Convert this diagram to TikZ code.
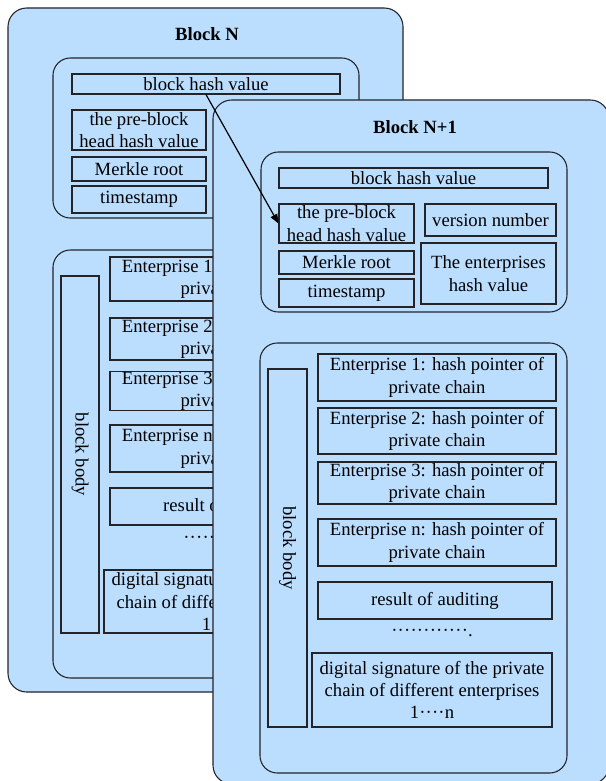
\documentclass[tikz,border=0pt]{standalone}
\usepackage{fontspec}
\setmainfont{Liberation Serif}
\usetikzlibrary{arrows.meta}
\definecolor{panelblue}{RGB}{187,222,255}
\definecolor{edgegray}{RGB}{35,35,40}

% \pxbox[style]{name}{x1}{y1}{x2}{y2}{text}: a box spanning two corners
\newcommand\pxbox[7][cellbox]{%
  \node[#1, minimum width={(#5-#3)*0.75pt}, minimum height={(#6-#4)*0.75pt}]
    (#2) at ({(#3+#5)/2},{(#4+#6)/2}) {#7};}
% a raised dot of ellipsis spacing
\newcommand\mdot{\makebox[4.8pt]{·}}

\tikzset{
  txt/.style={font=\fontsize{14}{16.7}\selectfont},
  cellbox/.style={rectangle, draw=edgegray, fill=panelblue, line width=0.8pt,
    inner sep=0pt, align=center, txt},
  panel/.style={cellbox, rounded corners=13pt},
  outerpanel/.style={cellbox, rounded corners=14pt},
  blocktitle/.style={font=\fontsize{14}{16.7}\selectfont\bfseries, inner sep=0pt},
  sidelabel/.style={txt, rotate=-90, inner sep=0pt},
  linkarrow/.style={draw=black, line width=0.9pt,
    -{Triangle[length=7pt,width=5.5pt]}},
}

\begin{document}
\begin{tikzpicture}[x=0.75pt, y=-0.75pt]
\useasboundingbox (0,0) rectangle (606,781);

% ---------------- Block N ----------------
\pxbox[outerpanel]{blockN}{8}{8}{403}{692}{}
\node[blocktitle] (titleN) at (207,34) {Block N};

\pxbox[panel]{headN}{53}{58}{359}{218}{}
\pxbox{hashN}{72}{74}{340}{94}{block hash value}
\pxbox{prevN}{72}{110}{206}{150}{the pre-block\\head hash value}
\pxbox{merkN}{72}{157}{206}{181}{Merkle root}
\pxbox{timeN}{72}{186}{206}{213}{timestamp}

\pxbox[panel]{bodyN}{53}{250}{359}{678}{}
\pxbox{sideN}{61}{276}{99}{633}{}
\node[sidelabel] (sideNlabel) at (sideN.center) {block body};
\pxbox{eoneN}{110}{257}{348}{301}{Enterprise 1: hash pointer of\\private chain}
\pxbox{etwoN}{110}{318}{348}{360}{Enterprise 2: hash pointer of\\private chain}
\pxbox{ethreeN}{110}{372}{348}{410}{Enterprise 3: hash pointer of\\private chain}
\pxbox{enN}{110}{425}{348}{472}{Enterprise n: hash pointer of\\private chain}
\pxbox{resN}{110}{488}{344}{525}{result of auditing}
\node[txt, inner sep=0pt] (dotsN) at (224,540) {\mdot\mdot\mdot\mdot\mdot\mdot\mdot\mdot\mdot\mdot\mdot\mdot.};
\pxbox{sigN}{104}{570}{344}{633}{digital signature of the private\\chain of different enterprises\\1\mdot\mdot\mdot\mdot n}

% ---------------- Block N+1 ----------------
\pxbox[outerpanel]{blockM}{213}{100}{609}{784}{}
\node[blocktitle] (titleM) at (415,127) {Block N+1};

\pxbox[panel]{headM}{261}{152}{567}{312}{}
\pxbox{hashM}{279}{168}{548}{188}{block hash value}
\pxbox{prevM}{279}{204}{414}{243}{the pre-block\\head hash value}
\pxbox{merkM}{279}{251}{414}{274}{Merkle root}
\pxbox{timeM}{279}{279}{414}{307}{timestamp}
\pxbox{verM}{425}{204}{556}{236}{version number}
\pxbox{entM}{421}{243}{556}{304}{The enterprises\\hash value}

\pxbox[panel]{bodyM}{260}{343}{567}{773}{}
\pxbox{sideM}{268}{369}{307}{727}{}
\node[sidelabel] (sideMlabel) at (sideM.center) {block body};
\pxbox{eoneM}{318}{354}{556}{401}{Enterprise 1: hash pointer of\\private chain}
\pxbox{etwoM}{318}{408}{556}{454}{Enterprise 2: hash pointer of\\private chain}
\pxbox{ethreeM}{318}{462}{556}{504}{Enterprise 3: hash pointer of\\private chain}
\pxbox{enM}{318}{519}{556}{566}{Enterprise n: hash pointer of\\private chain}
\pxbox{resM}{318}{582}{552}{619}{result of auditing}
\node[txt, inner sep=0pt] (dotsM) at (432,633) {\mdot\mdot\mdot\mdot\mdot\mdot\mdot\mdot\mdot\mdot\mdot\mdot.};
\pxbox{sigM}{312}{653}{552}{727}{digital signature of the private\\chain of different enterprises\\1\mdot\mdot\mdot\mdot n}

% hash link from block N to block N+1
\draw[linkarrow] (hashN.south) -- (prevM.west);
\end{tikzpicture}
\end{document}
